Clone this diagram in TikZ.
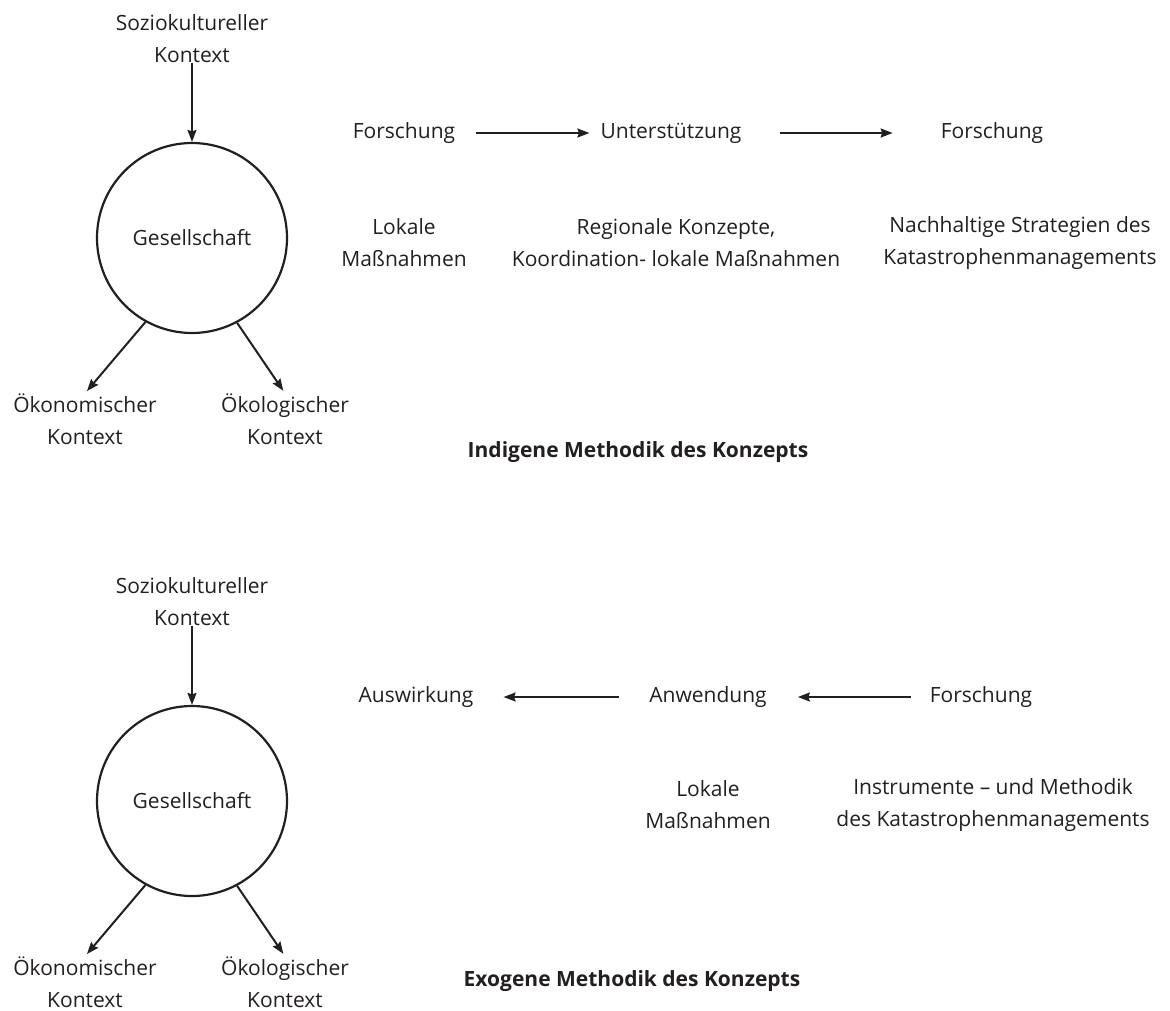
\documentclass[tikz,border=0pt]{standalone}
\usepackage{fontspec}
\setmainfont{Open Sans}
\usetikzlibrary{arrows.meta,positioning}
\definecolor{DiagInk}{RGB}{35,31,32}

\begin{document}
\begin{tikzpicture}[
  x=1pt,y=-1pt,
  txt/.style={align=center,inner sep=0pt,font=\fontsize{21}{32}\selectfont,text=DiagInk},
  title/.style={align=center,inner sep=0pt,font=\fontsize{21}{32}\selectfont\bfseries,text=DiagInk},
  society/.style={circle,draw=DiagInk,line width=2.2pt,minimum size=190pt,inner sep=0pt,
                  font=\fontsize{21}{32}\selectfont,text=DiagInk},
  arrow/.style={-{Stealth[length=12pt,width=9pt,inset=1.5pt]},draw=DiagInk,line width=2pt}
]
\useasboundingbox (0,0) rectangle (1170,1010);
% indigene Methodik
\node[txt] (soziA) at (192,39) {Soziokultureller\\Kontext};
\node[society] (gesA) at (192,238) {Gesellschaft};
\node[txt] (oekonA) at (85,419) {Ökonomischer\\Kontext};
\node[txt] (oekolA) at (285,419) {Ökologischer\\Kontext};
\draw[arrow] (soziA) -- (gesA);
\draw[arrow,shorten >=3pt] (gesA.241) -- (oekonA.north);
\draw[arrow,shorten >=3pt] (gesA.298) -- (oekolA.north);

\node[txt] (forschA) at (404,133) {Forschung};
\node[txt] (unterst) at (671,133) {Unterstützung};
\node[txt] (forschB) at (992,133) {Forschung};
\node[txt] (lokalA) at (404,243) {Lokale\\Maßnahmen};
\node[txt] (regional) at (676,243) {Regionale Konzepte,\\Koordination- lokale Maßnahmen};
\node[txt] (nachh) at (1020,243) {Nachhaltige Strategien des\\Katastrophenmanagements};
\draw[arrow,shorten <=21pt,shorten >=11pt] (forschA) -- (unterst);
\draw[arrow,shorten <=38pt,shorten >=48pt] (unterst) -- (forschB);
\node[title] (indigen) at (638,452) {Indigene Methodik des Konzepts};

% exogene Methodik
\node[txt] (soziB) at (192,602) {Soziokultureller\\Kontext};
\node[society] (gesB) at (192,801) {Gesellschaft};
\node[txt] (oekonB) at (85,982) {Ökonomischer\\Kontext};
\node[txt] (oekolB) at (285,982) {Ökologischer\\Kontext};
\draw[arrow] (soziB) -- (gesB);
\draw[arrow,shorten >=3pt] (gesB.241) -- (oekonB.north);
\draw[arrow,shorten >=3pt] (gesB.298) -- (oekolB.north);

\node[txt] (auswirk) at (416,697) {Auswirkung};
\node[txt] (anwend) at (708,697) {Anwendung};
\node[txt] (forschC) at (981,697) {Forschung};
\node[txt] (lokalB) at (708,805) {Lokale\\Maßnahmen};
\node[txt] (instr) at (993,805) {Instrumente – und Methodik\\des Katastrophenmanagements};
\draw[arrow,shorten <=30pt,shorten >=30pt] (anwend) -- (auswirk);
\draw[arrow,shorten <=19pt,shorten >=31pt] (forschC) -- (anwend);
\node[title] (exogen) at (632,981) {Exogene Methodik des Konzepts};
\end{tikzpicture}
\end{document}
